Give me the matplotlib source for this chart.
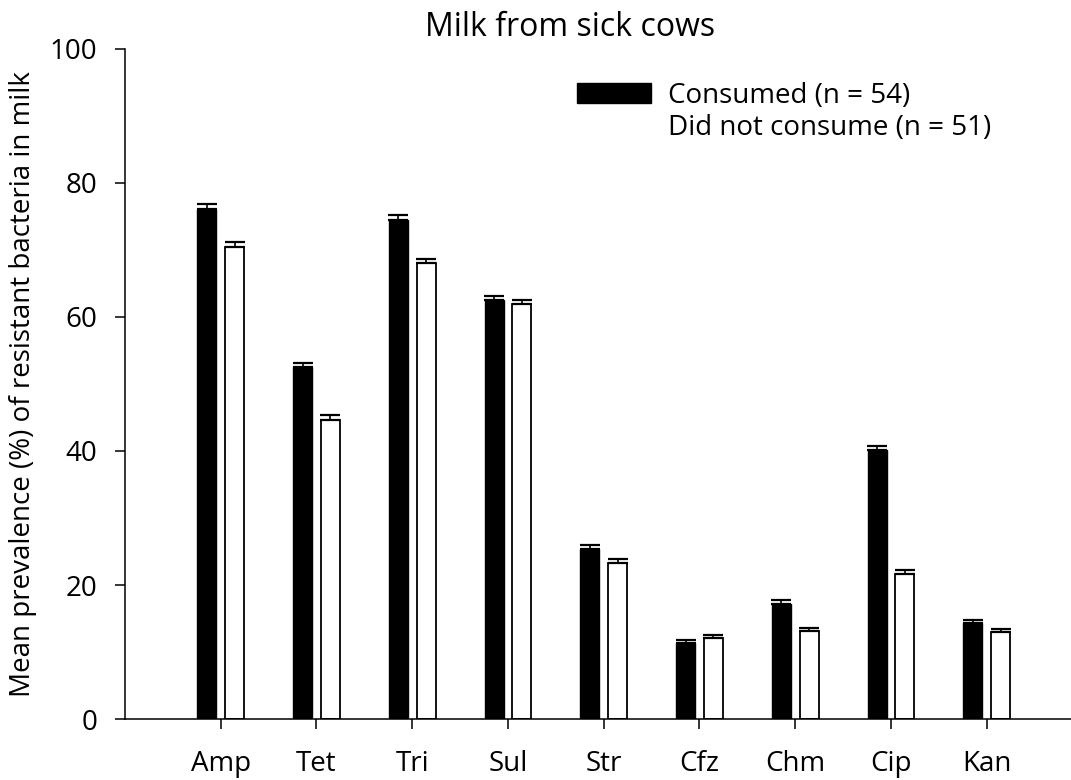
import numpy as np
import matplotlib.pyplot as plt
from matplotlib.patches import Patch

plt.rcParams['font.family'] = ['Open Sans', 'DejaVu Sans']

drugs = ['Amp', 'Tet', 'Tri', 'Sul', 'Str', 'Cfz', 'Chm', 'Cip', 'Kan']
consumed = [76.1, 52.5, 74.5, 62.5, 25.3, 11.3, 17.1, 40.1, 14.3]
consumed_err = [0.7, 0.7, 0.7, 0.7, 0.6, 0.5, 0.6, 0.7, 0.5]
not_consumed = [70.4, 44.7, 68.0, 61.9, 23.3, 12.1, 13.1, 21.6, 13.0]
not_consumed_err = [0.8, 0.7, 0.7, 0.7, 0.6, 0.5, 0.5, 0.6, 0.5]

x = np.arange(len(drugs))
w = 0.2
off = 0.145

fig = plt.figure(figsize=(10.71, 7.8), dpi=100)
ax = fig.add_axes([0.1167, 0.0782, 0.8833, 0.859])

ekw = dict(elinewidth=1.2, capthick=1.6, ecolor='black')
ax.bar(x - off, consumed, w, color='black', edgecolor='black', linewidth=1.0,
       yerr=[np.zeros(len(x)), consumed_err], capsize=7, error_kw=ekw, zorder=2)
ax.bar(x + off, not_consumed, w, color='white', edgecolor='black', linewidth=1.3,
       yerr=[np.zeros(len(x)), not_consumed_err], capsize=7, error_kw=ekw, zorder=2)

ax.set_xlim(-1.0, 8.88)
ax.set_ylim(0, 100)
ax.set_yticks([0, 20, 40, 60, 80, 100])
ax.set_xticks(x)
ax.set_xticklabels(drugs)
ax.spines['top'].set_visible(False)
ax.spines['right'].set_visible(False)
for s in ['left', 'bottom']:
    ax.spines[s].set_linewidth(1.1)
ax.tick_params(axis='y', direction='out', length=7, width=1.1, pad=13, labelsize=20)
ax.tick_params(axis='x', direction='out', length=7, width=1.1, pad=15, labelsize=20)
ax.set_ylabel('Mean prevalence (%) of resistant bacteria in milk', fontsize=20, labelpad=9)

fig.text(570 / 1071, 1 - 28 / 780, 'Milk from sick cows', fontsize=23,
         ha='center', va='center')

handles = [Patch(facecolor='black', edgecolor='black'),
           Patch(facecolor='white', edgecolor='white')]
ax.legend(handles, ['Consumed (n = 54)', 'Did not consume (n = 51)'],
          loc='upper left', bbox_to_anchor=(577 / 1071, 1 - 82 / 780),
          bbox_transform=fig.transFigure, frameon=False, fontsize=20,
          handlelength=2.66, handleheight=0.72, handletextpad=0.6,
          labelspacing=0.15, borderpad=0, borderaxespad=0)

fig.savefig('out.png', dpi=100)
